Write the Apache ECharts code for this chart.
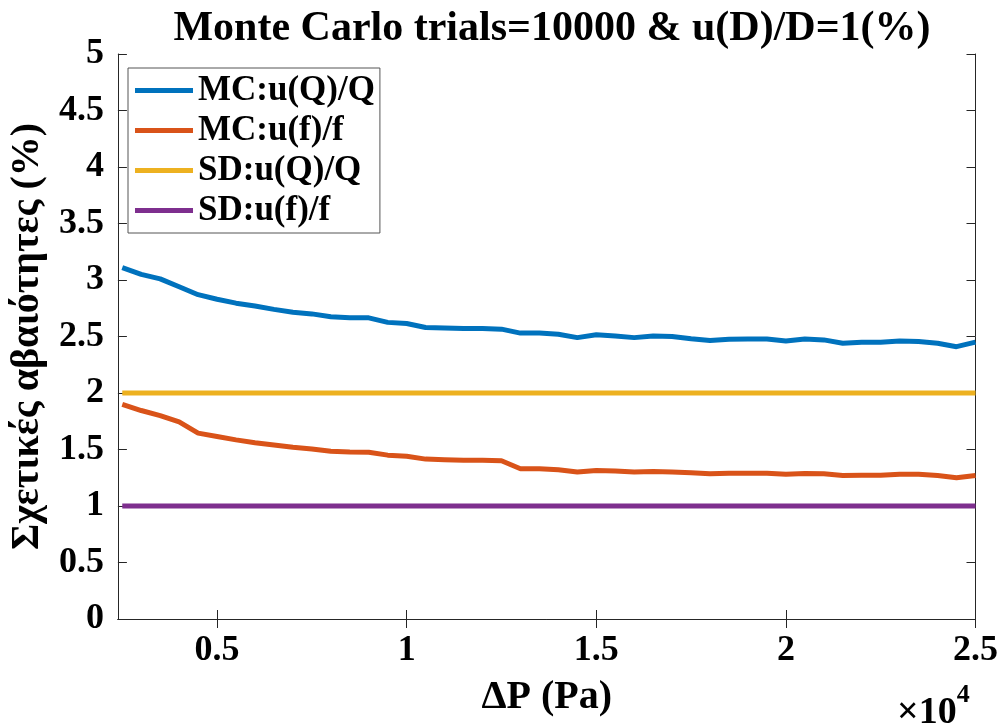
<!DOCTYPE html>
<html>
<head>
<meta charset="utf-8">
<script src="https://cdn.jsdelivr.net/npm/echarts@6/dist/echarts.min.js"></script>
<style>html,body{margin:0;padding:0;background:#fff}#c{width:1001px;height:728px}</style>
</head>
<body>
<div id="c"></div>
<script>
const dP = [2500,3000,3500,4000,4500,5000,5500,6000,6500,7000,7500,8000,8500,9000,9500,10000,
  10500,11000,11500,12000,12500,13000,13500,14000,14500,15000,15500,16000,16500,17000,17500,
  18000,18500,19000,19500,20000,20500,21000,21500,22000,22500,23000,23500,24000,24500,25000];
const mcQ = [3.11,3.05,3.01,2.94,2.87,2.83,2.795,2.77,2.74,2.715,2.70,2.675,2.665,2.665,2.625,2.615,
  2.58,2.575,2.57,2.57,2.565,2.53,2.53,2.52,2.49,2.515,2.505,2.49,2.505,2.50,2.48,
  2.465,2.475,2.477,2.477,2.46,2.477,2.47,2.44,2.45,2.45,2.46,2.456,2.44,2.41,2.45];
const mcF = [1.90,1.845,1.80,1.745,1.645,1.615,1.585,1.56,1.54,1.52,1.505,1.485,1.478,1.475,1.45,1.44,
  1.415,1.41,1.405,1.405,1.40,1.33,1.33,1.32,1.30,1.315,1.31,1.30,1.305,1.30,1.295,
  1.285,1.29,1.29,1.29,1.28,1.288,1.285,1.27,1.272,1.272,1.28,1.28,1.27,1.25,1.27];
const sdQ = [2,2,2,2,2,2,2,2,2,2,2,2,2,2,2,2,2,2,2,2,2,2,2,2,2,2,2,2,2,2,2,2,2,2,2,2,2,2,2,2,2,2,2,2,2,2];
const sdF = [1,1,1,1,1,1,1,1,1,1,1,1,1,1,1,1,1,1,1,1,1,1,1,1,1,1,1,1,1,1,1,1,1,1,1,1,1,1,1,1,1,1,1,1,1,1];
const names = ['MC:u(Q)/Q','MC:u(f)/f','SD:u(Q)/Q','SD:u(f)/f'];
const colors = ['#0072BD','#D95319','#EDB120','#7E2F8E'];
const xTicks = [5000,10000,15000,20000,25000];
const titleText = 'Monte Carlo trials=10000 & u(D)/D=1(%)';
const xName = 'ΔP (Pa)';
const yName = 'Σχετικές αβαιότητες (%)';

const FONT = 'Liberation Serif';
const AX = '#262626';
const chart = echarts.init(document.getElementById('c'), null, {renderer:'canvas'});
const zip = a => dP.map((x,i)=>[x,a[i]]);
const seriesData = [mcQ, mcF, sdQ, sdF];

const axisCommon = {
  axisLine:{show:true, lineStyle:{color:AX, width:1}},
  splitLine:{show:false}
};
const XMIN = 2385, XMAX = 25000;
chart.setOption({
  animation:false,
  backgroundColor:'#fff',
  title:{text:titleText, left:547, textAlign:'center', top:3,
    textStyle:{fontFamily:FONT, fontWeight:'bold', fontSize:42, color:'#000'}},
  legend:{left:128, top:68, orient:'vertical', icon:'rect', itemWidth:58, itemHeight:5, itemGap:5,
    padding:[5,5,5,7], borderColor:'#555', borderWidth:1, backgroundColor:'#fff',
    data:names,
    textStyle:{fontFamily:FONT, fontWeight:'bold', fontSize:35, color:'#000'}},
  grid:{left:117, right:25, top:54, bottom:109, containLabel:false},
  xAxis:[
    Object.assign({type:'value', min:XMIN, max:XMAX, position:'bottom',
      name:xName, nameLocation:'middle', nameGap:59,
      nameTextStyle:{fontFamily:FONT, fontWeight:'bold', fontSize:40, color:'#000'},
      axisTick:{show:true, inside:true, length:9, customValues:xTicks, lineStyle:{color:AX}},
      axisLabel:{show:true, customValues:xTicks, margin:14, formatter:v=>String(v/10000),
        fontFamily:FONT, fontWeight:'bold', fontSize:36, color:'#000'}}, axisCommon),
    Object.assign({type:'value', min:XMIN, max:XMAX, position:'top',
      axisTick:{show:true, inside:true, length:9, customValues:xTicks, lineStyle:{color:AX}},
      axisLabel:{show:false}}, axisCommon)
  ],
  yAxis:[
    Object.assign({type:'value', min:0, max:5, interval:0.5, position:'left',
      name:yName, nameLocation:'middle', nameGap:65, nameRotate:90,
      nameTextStyle:{fontFamily:FONT, fontWeight:'bold', fontSize:40, color:'#000'},
      axisTick:{show:true, inside:true, length:9, lineStyle:{color:AX}},
      axisLabel:{show:true, margin:14, formatter:v=>String(v),
        fontFamily:FONT, fontWeight:'bold', fontSize:36, color:'#000'}}, axisCommon),
    Object.assign({type:'value', min:0, max:5, interval:0.5, position:'right',
      axisTick:{show:true, inside:true, length:9, lineStyle:{color:AX}},
      axisLabel:{show:false}}, axisCommon)
  ],
  graphic:[{type:'text', left:897, top:682, style:{
    text:'{a|×10}{b|4}', rich:{
      a:{fontFamily:FONT, fontWeight:'bold', fontSize:38, fill:'#000', verticalAlign:'bottom', padding:[12,0,0,0]},
      b:{fontFamily:FONT, fontWeight:'bold', fontSize:26, fill:'#000', verticalAlign:'top'}}}}],
  series: names.map((n,i)=>({name:n, type:'line', data:zip(seriesData[i]), symbol:'none',
    showSymbol:false, lineStyle:{width:5, color:colors[i]}, itemStyle:{color:colors[i]},
    z: 2 + i}))
});
</script>
</body>
</html>
